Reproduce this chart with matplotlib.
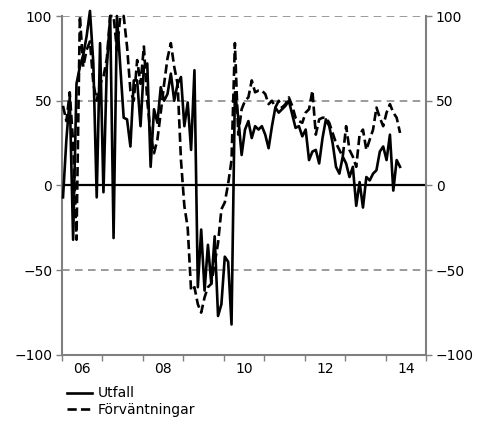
import matplotlib.pyplot as plt
import numpy as np

# monthly observations, Jan 2006 .. May 2014
utfall = [
    -7, 27, 52, -32, 60, 70, 77, 88, 103, 72, -7, 84,
    -4, 70, 100, -31, 100, 70, 40, 39, 23, 62, 62, 35,
    70, 72, 11, 45, 37, 58, 50, 54, 66, 50, 60, 64,
    35, 49, 21, 68, -60, -26, -62, -35, -58, -30, -77, -70,
    -42, -45, -82, 55, 40, 18, 33, 38, 28, 35, 33, 35,
    30, 22, 35, 46, 43, 45, 47, 50, 42, 34, 35, 29,
    33, 15, 20, 21, 13, 28, 39, 35, 25, 11, 7, 17,
    13, 5, 11, -12, 2, -13, 5, 3, 7, 9, 20, 23,
    15, 30, -3, 15, 11,
]
forvantningar = [
    47, 38, 55, 25, -32, 100, 70, 80, 85, 60, 50, 60,
    64, 75, 100, 100, 80, 100, 100, 82, 56, 50, 74, 60,
    82, 50, 30, 19, 27, 43, 60, 75, 84, 70, 60, 15,
    -12, -25, -62, -60, -70, -75, -66, -60, -58, -46, -34, -14,
    -10, 1, 15, 84, 30, 45, 50, 52, 62, 55, 56, 56,
    54, 48, 50, 46, 50, 46, 48, 52, 47, 40, 38, 37,
    43, 45, 56, 30, 39, 40, 40, 37, 31, 25, 21, 17,
    35, 21, 17, 11, 30, 33, 21, 27, 33, 46, 40, 35,
    43, 48, 43, 40, 31,
]
year_labels = ["06", "08", "10", "12", "14"]
label_years = [2006, 2008, 2010, 2012, 2014]

t = 2006 + (np.arange(len(utfall)) + 0.3) / 12

plt.rcParams["font.family"] = "DejaVu Sans"
plt.rcParams["font.size"] = 10

fig = plt.figure(figsize=(4.78, 4.28), dpi=100)
ax = fig.add_axes([0.1297, 0.1706, 0.7615, 0.792])

grey = "#808080"
for yv in [-50, 50, 100]:
    ax.axhline(yv, color=grey, lw=1.1, ls=(0, (5, 3.5)), zorder=1)
ax.axhline(0, color="black", lw=1.6, zorder=2)

ax.plot(t, utfall, color="black", lw=1.9, label="Utfall", zorder=3, clip_on=False)
ax.plot(t, forvantningar, color="black", lw=1.9, ls=(0, (3.5, 1.6)),
        label="Förväntningar", zorder=3, clip_on=False)

ax.set_xlim(2006, 2015)
ax.set_ylim(-100, 100)
ax.set_yticks([-100, -50, 0, 50, 100])
ax.set_xticks(range(2006, 2016))
ax.set_xticklabels([])
ax.set_xticks([y + 0.5 for y in label_years], minor=True)
ax.set_xticklabels(year_labels, minor=True)
ax.tick_params(axis="x", which="major", direction="out", length=4, color=grey, width=1)
ax.tick_params(axis="x", which="minor", length=0, pad=5)
ax.tick_params(axis="y", direction="out", length=4, color=grey, width=1, pad=3)

for side in ["left", "right", "bottom"]:
    ax.spines[side].set_color(grey)
    ax.spines[side].set_linewidth(1.5)
ax.spines["top"].set_visible(False)

ax2 = ax.twinx()
ax2.set_ylim(-100, 100)
ax2.set_yticks([-100, -50, 0, 50, 100])
ax2.tick_params(axis="y", direction="out", length=4, color=grey, width=1, pad=3)
for side in ["left", "right", "bottom", "top"]:
    ax2.spines[side].set_visible(False)

handles, labels = ax.get_legend_handles_labels()
fig.legend(handles, labels, loc="upper left", bbox_to_anchor=(0.141, 0.097),
           frameon=False, handlelength=1.8, handletextpad=0.4, labelspacing=0.2,
           borderaxespad=0, borderpad=0)

fig.savefig("out.png", dpi=100)
